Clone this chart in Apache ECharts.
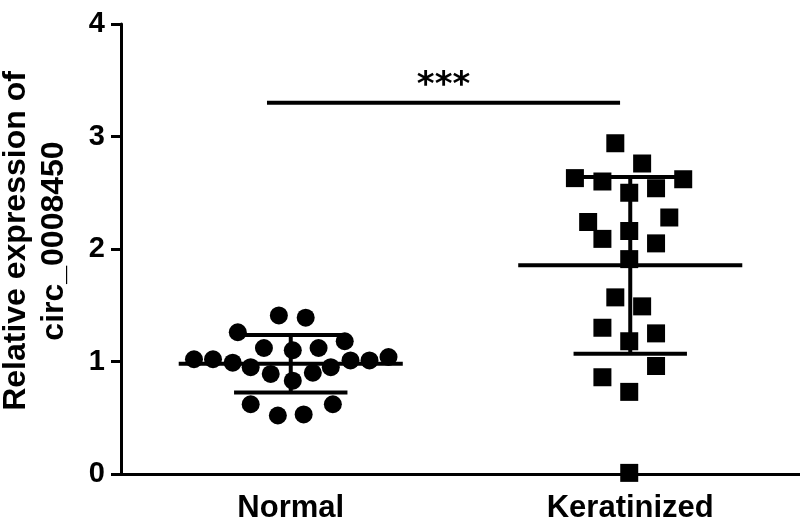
<!DOCTYPE html>
<html>
<head>
<meta charset="utf-8">
<title>circ_0008450</title>
<script src="https://cdn.jsdelivr.net/npm/echarts@6/dist/echarts.min.js"></script>
<style>
  html, body { margin: 0; padding: 0; background: #fff; }
  #chart { width: 800px; height: 523px; }
</style>
</head>
<body>
<div id="chart"></div>
<script>
// groups
var categories = ['Normal', 'Keratinized'];

// Normal (circles): jitter position on hidden x value axis, and value
var normalX = [0.215, 0.271, 0.329, 0.382, 0.441, 0.506, 0.565, 0.618, 0.676, 0.732, 0.788,
  0.344, 0.421, 0.506, 0.582, 0.659, 0.465, 0.544,
  0.382, 0.462, 0.538, 0.624];
var normalY = [1.02, 1.02, 0.99, 0.95, 0.89, 0.83, 0.90, 0.95, 1.01, 1.01, 1.04,
  1.26, 1.12, 1.10, 1.12, 1.18, 1.41, 1.39,
  0.62, 0.52, 0.53, 0.62];

// Keratinized (squares)
var kerX = [1.456, 1.535, 1.337, 1.418, 1.576, 1.656, 1.497, 1.376, 1.615, 1.497, 1.418, 1.576, 1.497,
  1.456, 1.535, 1.418, 1.576, 1.497, 1.576, 1.418, 1.497, 1.497];
var kerY = [2.94, 2.76, 2.63, 2.60, 2.54, 2.62, 2.50, 2.24, 2.28, 2.16, 2.09, 2.05, 1.91,
  1.57, 1.49, 1.30, 1.25, 1.18, 0.96, 0.86, 0.73, 0.01];

// mean and SD per group
var groupCenter = [0.5, 1.5];
var groupMean = [0.98, 1.855];
var groupSD = [0.255, 0.785];

// significance bar
var sigFrom = 0.43;
var sigTo = 1.47;
var sigY = 3.3;
var sigText = '***';

var yTicks = [0, 1, 2, 3, 4];

function pairs(xs, ys) {
  return xs.map(function (x, i) { return [x, ys[i]]; });
}

var lineStyle = { color: '#000', width: 4 };
var series = [];

series.push({
  name: 'Normal',
  type: 'scatter',
  xAxisIndex: 1,
  symbol: 'circle',
  symbolSize: 18,
  itemStyle: { color: '#000', opacity: 1 },
  data: pairs(normalX, normalY)
});
series.push({
  name: 'Keratinized',
  type: 'scatter',
  xAxisIndex: 1,
  symbol: 'rect',
  symbolSize: 18,
  itemStyle: { color: '#000', opacity: 1 },
  data: pairs(kerX, kerY)
});

function seg(data) {
  series.push({
    type: 'line',
    xAxisIndex: 1,
    symbol: 'none',
    silent: true,
    z: 3,
    lineStyle: lineStyle,
    data: data
  });
}

for (var g = 0; g < 2; g++) {
  var c = groupCenter[g], m = groupMean[g], s = groupSD[g];
  seg([[c - 0.33, m], [c + 0.33, m]]);               // mean
  seg([[c - 0.167, m + s], [c + 0.167, m + s]]);      // +SD
  seg([[c - 0.167, m - s], [c + 0.167, m - s]]);      // -SD
  seg([[c, m - s], [c, m + s]]);                      // whisker
}

seg([[sigFrom, sigY], [sigTo, sigY]]);
series.push({
  type: 'scatter',
  xAxisIndex: 1,
  symbolSize: 0,
  silent: true,
  itemStyle: { opacity: 1 },
  label: {
    show: true,
    position: 'top',
    distance: 0,
    formatter: sigText,
    color: '#000',
    fontFamily: 'DejaVu Sans',
    fontWeight: 'bold',
    fontSize: 34
  },
  data: [[(sigFrom + sigTo) / 2, sigY]]
});

var chart = echarts.init(document.getElementById('chart'));
chart.setOption({
  animation: false,
  backgroundColor: '#fff',
  grid: { left: 121, right: 0, top: 24, bottom: 49, outerBoundsMode: 'none', containLabel: false },
  xAxis: [{
    type: 'category',
    data: categories,
    boundaryGap: true,
    axisLine: { lineStyle: { color: '#000', width: 3 } },
    axisTick: { alignWithLabel: true, length: 10, lineStyle: { color: '#000', width: 3 } },
    axisLabel: {
      color: '#000',
      fontFamily: 'Liberation Sans',
      fontWeight: 'bold',
      fontSize: 31,
      margin: 19
    },
    splitLine: { show: false }
  }, {
    type: 'value',
    min: 0,
    max: 2,
    show: false
  }],
  yAxis: {
    type: 'value',
    min: yTicks[0],
    max: yTicks[yTicks.length - 1],
    interval: 1,
    name: 'Relative expression of\ncirc_0008450',
    nameLocation: 'middle',
    nameGap: 48,
    nameTextStyle: {
      color: '#000',
      fontFamily: 'Liberation Sans',
      fontWeight: 'bold',
      fontSize: 32,
      lineHeight: 38,
      padding: [0, 0, 0, 16]
    },
    axisLine: { show: true, lineStyle: { color: '#000', width: 3 } },
    axisTick: { show: true, length: 10, lineStyle: { color: '#000', width: 3 } },
    axisLabel: {
      color: '#000',
      fontFamily: 'Liberation Sans',
      fontWeight: 'bold',
      fontSize: 29,
      margin: 16
    },
    splitLine: { show: false }
  },
  series: series
});
</script>
</body>
</html>
